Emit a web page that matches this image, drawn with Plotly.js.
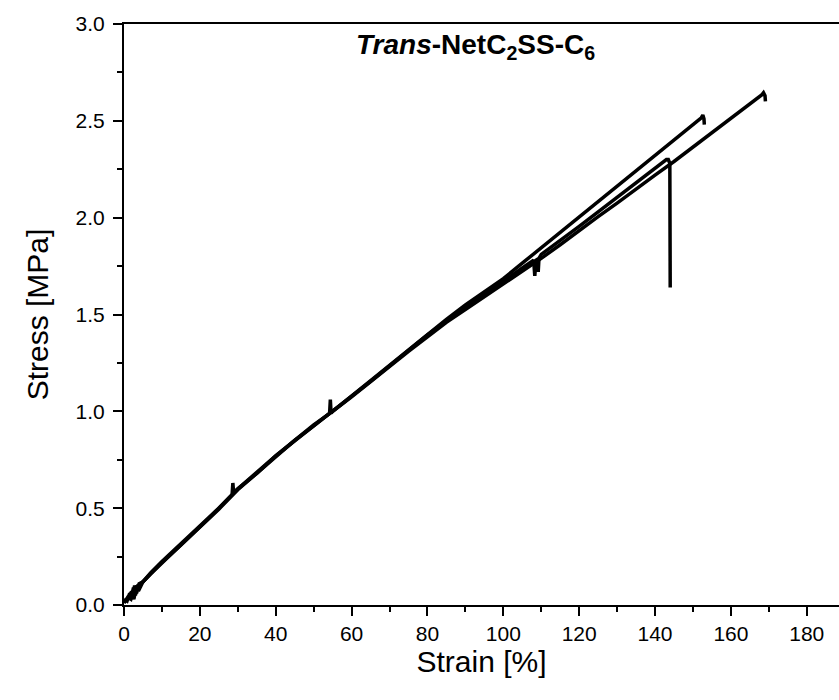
<!DOCTYPE html>
<html>
<head>
<meta charset="utf-8">
<script src="https://cdn.plot.ly/plotly-3.0.1.min.js"></script>
<style>html,body{margin:0;padding:0;background:#fff;}#chart{width:839px;height:700px;}</style>
</head>
<body>
<div id="chart"></div>
<script>
// Sample 1 (ends ~153 %)
const strainA = [0,0.8,1.5,2.2,2.8,3.3,4,5,7,10,12,15,17.5,20,22.5,25,27.5,30,32.5,35,40,45,50,55,60,65,70,75,80,85,90,95,100,105,110,115,120,125,130,135,140,145,150,152.2,152.6,152.9,153.0];
const stressA = [0.03,0.02,0.06,0.04,0.10,0.06,0.11,0.12,0.16,0.22,0.255,0.31,0.355,0.40,0.45,0.50,0.55,0.60,0.64,0.68,0.77,0.85,0.93,1.00,1.08,1.16,1.24,1.32,1.40,1.475,1.55,1.615,1.685,1.765,1.845,1.925,2.005,2.085,2.165,2.245,2.325,2.40,2.48,2.515,2.53,2.51,2.48];
// Sample 2 (ends ~169 %)
const strainB = [0,1,2,2.6,3.2,4,5,7,10,15,20,25,28.5,28.7,28.9,30,35,40,45,50,54.2,54.4,54.6,55,60,65,70,75,80,85,90,95,100,105,110,115,120,125,130,135,140,145,150,155,160,165,168.2,168.6,169.0,169.1];
const stressB = [0.02,0.03,0.07,0.03,0.09,0.08,0.12,0.165,0.225,0.315,0.405,0.50,0.57,0.63,0.58,0.60,0.685,0.77,0.85,0.925,0.99,1.06,0.99,1.00,1.075,1.155,1.23,1.31,1.385,1.46,1.525,1.59,1.655,1.72,1.79,1.86,1.935,2.005,2.075,2.15,2.22,2.29,2.365,2.44,2.515,2.585,2.635,2.645,2.63,2.60];
// Sample 3 (breaks ~144 %)
const strainC = [0,1,1.8,2.5,3,3.6,4.5,6,10,15,20,25,30,35,40,45,50,55,60,65,70,75,80,85,90,95,100,105,108,108.3,108.6,109,109.2,109.4,110,115,120,125,130,135,140,143.0,143.5,143.9,144.0];
const stressC = [0.01,0.04,0.03,0.09,0.05,0.10,0.11,0.14,0.22,0.31,0.40,0.495,0.595,0.68,0.765,0.85,0.925,1.00,1.08,1.155,1.235,1.315,1.395,1.465,1.535,1.60,1.67,1.74,1.78,1.70,1.78,1.785,1.72,1.79,1.81,1.88,1.955,2.03,2.105,2.18,2.255,2.30,2.30,2.28,1.64];

const xTicks = [0,20,40,60,80,100,120,140,160,180];
const yTicks = [0.0,0.5,1.0,1.5,2.0,2.5,3.0];
const yTickText = ['0.0','0.5','1.0','1.5','2.0','2.5','3.0'];
const titleText = '<b><i>Trans</i>-NetC<sub>2</sub>SS-C<sub>6</sub></b>';

const line = {color:'#000000', width:3.5};
const traces = [
  {x:strainA, y:stressA, mode:'lines', line:line, hoverinfo:'skip'},
  {x:strainB, y:stressB, mode:'lines', line:line, hoverinfo:'skip'},
  {x:strainC, y:stressC, mode:'lines', line:line, hoverinfo:'skip'}
];

const layout = {
  width:839, height:700,
  margin:{l:124, r:0, t:24, b:95},
  paper_bgcolor:'#fff', plot_bgcolor:'#fff',
  showlegend:false,
  font:{family:'Liberation Sans, Arial, sans-serif', color:'#000'},
  xaxis:{
    range:[0,188.5], showgrid:false, zeroline:false,
    showline:true, linecolor:'#000', linewidth:2, mirror:true,
    ticks:'outside', ticklen:9, tickwidth:2, tickcolor:'#000',
    tickvals:xTicks, ticktext:xTicks.map(String),
    tickfont:{size:21},
    minor:{ticks:'outside', ticklen:5, tickwidth:2, tickcolor:'#000', dtick:10, tick0:0, showgrid:false},
    title:{text:'Strain [%]', font:{size:30}, standoff:3}
  },
  yaxis:{
    range:[0,3.0], showgrid:false, zeroline:false,
    showline:true, linecolor:'#000', linewidth:2,
    ticks:'outside', ticklen:9, tickwidth:2, tickcolor:'#000',
    tickvals:yTicks, ticktext:yTickText,
    tickfont:{size:21},
    ticklabelstandoff:4,
    minor:{ticks:'outside', ticklen:5, tickwidth:2, tickcolor:'#000', dtick:0.25, tick0:0, showgrid:false},
    title:{text:'Stress [MPa]', font:{size:30}, standoff:18}
  },
  annotations:[{
    text:titleText, xref:'paper', yref:'paper', x:0.491, y:0.962,
    xanchor:'center', yanchor:'middle', showarrow:false,
    font:{size:28, color:'#000'}
  }]
};

Plotly.newPlot('chart', traces, layout, {displayModeBar:false, staticPlot:true});
</script>
</body>
</html>
